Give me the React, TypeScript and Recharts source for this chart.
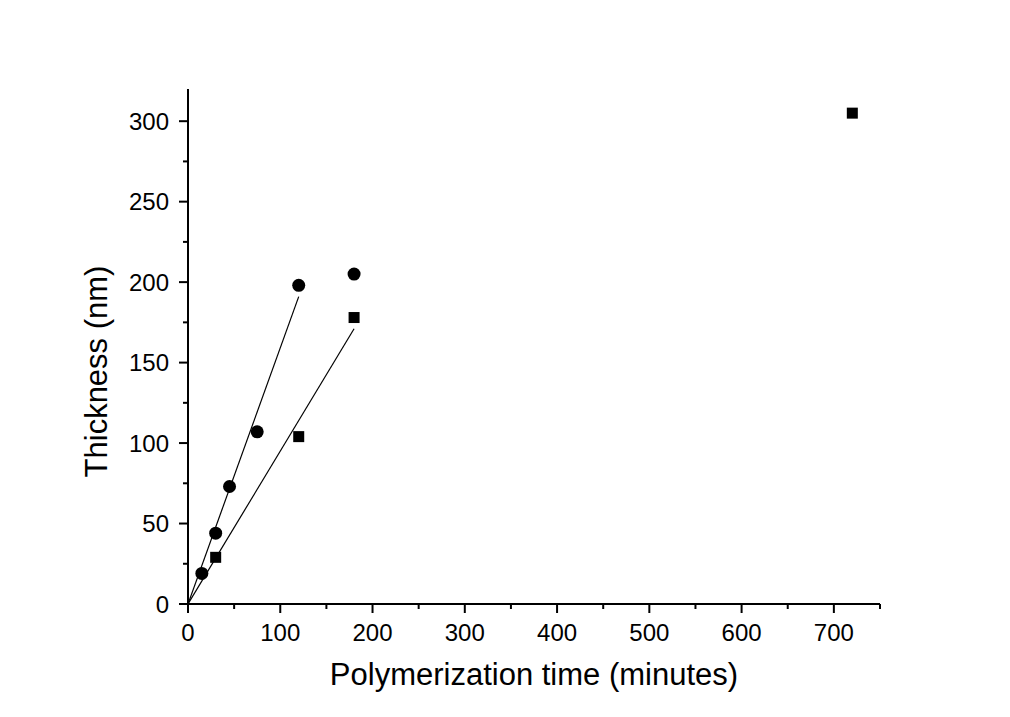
import React from 'react';
import { ComposedChart, XAxis, YAxis, Scatter, Line, Label } from 'recharts';

const circleSeries = [
  { x: 15, y: 19 },
  { x: 30, y: 44 },
  { x: 45, y: 73 },
  { x: 75, y: 107 },
  { x: 120, y: 198 },
  { x: 180, y: 205 },
];
const squareSeries = [
  { x: 30, y: 29 },
  { x: 120, y: 104 },
  { x: 180, y: 178 },
  { x: 720, y: 305 },
];
const circleFit = [
  { x: 0, y: 0 },
  { x: 120, y: 191 },
];
const squareFit = [
  { x: 0, y: 0 },
  { x: 180, y: 171 },
];
const xTicks = [0, 50, 100, 150, 200, 250, 300, 350, 400, 450, 500, 550, 600, 650, 700, 750];
const yTicks = [0, 25, 50, 75, 100, 125, 150, 175, 200, 225, 250, 275, 300];

const FONT = '"Liberation Sans", Arial, sans-serif';

const XTick = (props: any) => {
  const { x, y, payload } = props;
  const v = payload.value;
  const major = v % 100 === 0;
  return (
    <g>
      <line x1={x} y1={y} x2={x} y2={y + (major ? 9 : 5)} stroke="#000" strokeWidth={2} />
      {major && (
        <text x={x} y={y + 37} textAnchor="middle" fontSize={24} fontFamily={FONT} fill="#000">
          {v}
        </text>
      )}
    </g>
  );
};

const YTick = (props: any) => {
  const { x, y, payload } = props;
  const v = payload.value;
  const major = v % 50 === 0;
  return (
    <g>
      <line x1={x} y1={y} x2={x - (major ? 9 : 5)} y2={y} stroke="#000" strokeWidth={2} />
      {major && (
        <text x={x - 19} y={y + 8.5} textAnchor="end" fontSize={24} fontFamily={FONT} fill="#000">
          {v}
        </text>
      )}
    </g>
  );
};

const Dot = (props: any) => <circle cx={props.cx} cy={props.cy} r={6.5} fill="#000" />;
const Sq = (props: any) => (
  <rect x={props.cx - 5.5} y={props.cy - 5.5} width={11} height={11} fill="#000" />
);

export default function App() {
  return (
    <div style={{ position: 'absolute', left: 0, top: 0, background: '#fff', width: 1010, height: 717 }}>
      <ComposedChart width={1010} height={717} margin={{ top: 89, right: 130, bottom: 0, left: 0 }}>
        <XAxis
          type="number"
          dataKey="x"
          domain={[0, 750]}
          ticks={xTicks}
          interval={0}
          height={113}
          tickSize={0}
          tickMargin={0}
          tick={<XTick />}
          axisLine={{ stroke: '#000', strokeWidth: 2 }}
          allowDataOverflow
        >
          <Label
            content={(p: any) => {
              const vb = p.viewBox;
              return (
                <text x={vb.x + vb.width / 2} y={vb.y + 81} textAnchor="middle" fontSize={31} fontFamily={FONT} fill="#000">
                  Polymerization time (minutes)
                </text>
              );
            }}
          />
        </XAxis>
        <YAxis
          type="number"
          dataKey="y"
          domain={[0, 320]}
          ticks={yTicks}
          interval={0}
          width={188}
          tickSize={0}
          tickMargin={0}
          tick={<YTick />}
          axisLine={{ stroke: '#000', strokeWidth: 2 }}
          allowDataOverflow
        >
          <Label
            content={(p: any) => {
              const vb = p.viewBox;
              const cx = 107;
              const cy = vb.y + vb.height / 2 + 25;
              return (
                <text x={cx} y={cy} transform={`rotate(-90 ${cx} ${cy})`} textAnchor="middle" fontSize={31} fontFamily={FONT} fill="#000">
                  Thickness (nm)
                </text>
              );
            }}
          />
        </YAxis>
        <Line data={circleFit} dataKey="y" stroke="#000" strokeWidth={1.2} dot={false} isAnimationActive={false} />
        <Line data={squareFit} dataKey="y" stroke="#000" strokeWidth={1.2} dot={false} isAnimationActive={false} />
        <Scatter data={circleSeries} dataKey="y" shape={<Dot />} isAnimationActive={false} />
        <Scatter data={squareSeries} dataKey="y" shape={<Sq />} isAnimationActive={false} />
      </ComposedChart>
    </div>
  );
}
